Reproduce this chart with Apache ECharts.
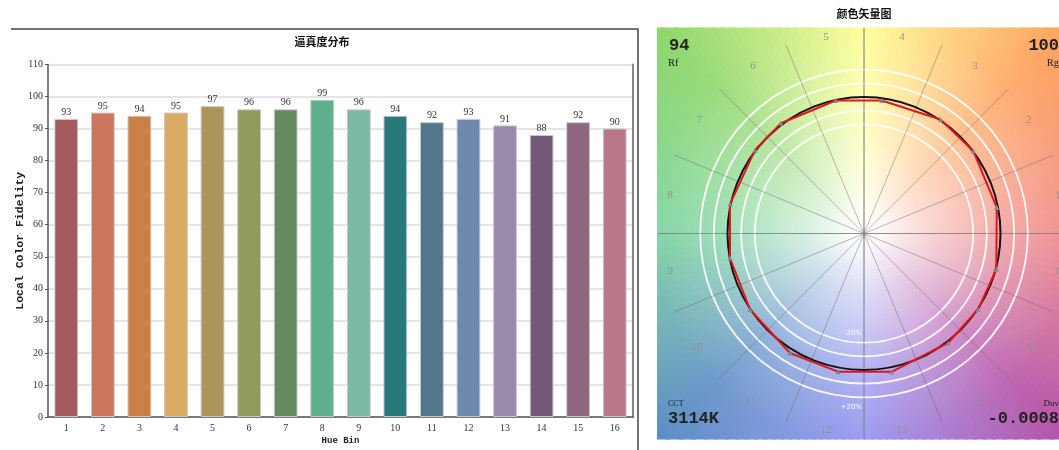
<!DOCTYPE html>
<html><head><meta charset="utf-8">
<script src="https://cdn.jsdelivr.net/npm/echarts@6/dist/echarts.min.js"></script>
<style>html,body{margin:0;padding:0;background:#fff}#c{width:1059px;height:450px}</style>
</head><body><div id="c"></div>
<script>
// ---------- data ----------
const hueBins = ['1','2','3','4','5','6','7','8','9','10','11','12','13','14','15','16'];
const fidelity = [93,95,94,95,97,96,96,99,96,94,92,93,91,88,92,90];
const binColors = ['#A35B5E','#CC765E','#CB8145','#D8AA62','#AC9559','#909C5D','#658A5E','#5EB08C',
                   '#7BB9A5','#28797A','#53778A','#6D89AF','#9A8AAB','#745A79','#8F657F','#B87889'];
const yMin = 0, yMax = 110, yStep = 10;
// colour vector graphic: test points (angle in degrees, radius relative to reference circle)
const testAngles = [11.1,37.0,56.1,82.4,102.0,127.0,142.5,167.6,190.4,213.7,238.2,259.3,281.3,307.5,326.3,344.9];
const testRadii  = [0.991,1.003,1.006,0.983,0.996,1.011,1.006,1.005,0.998,1.004,1.030,1.030,1.033,1.011,1.004,1.004];
const chromaRings = [0.8, 0.9, 1.1, 1.2];
const Rf = '94', Rg = '100', CCT = '3114K', Duv = '-0.0008';

// ---------- layout ----------
const CX = 864, CY = 233.5, R = 136.5, HW = 207, HH = 206;
const hueAnchors = [
  [0,[238,128,128]],[45,[255,160,90]],[90,[255,255,140]],[135,[140,214,104]],
  [180,[112,208,152]],[225,[90,140,196]],[270,[140,140,240]],[315,[180,80,166]],[360,[238,128,128]]
];
function hueColor(deg){
  deg = ((deg % 360) + 360) % 360;
  for (let i = 0; i < hueAnchors.length - 1; i++) {
    const [a0,c0] = hueAnchors[i], [a1,c1] = hueAnchors[i+1];
    if (deg >= a0 && deg <= a1) {
      const t = (deg - a0) / (a1 - a0);
      return 'rgb(' + c0.map((v,k)=>Math.round(v + (c1[k]-v)*t)).join(',') + ')';
    }
  }
  return 'rgb(255,255,255)';
}
function rayPoint(deg){
  const a = deg*Math.PI/180, dx = Math.cos(a), dy = -Math.sin(a);
  const tx = Math.abs(dx) > 1e-9 ? HW/Math.abs(dx) : Infinity;
  const ty = Math.abs(dy) > 1e-9 ? HH/Math.abs(dy) : Infinity;
  const t = Math.min(tx, ty);
  return [CX + t*dx, CY + t*dy];
}
const cDeg = Math.atan2(HH, HW)*180/Math.PI;
const corners = [[cDeg,[CX+HW,CY-HH]],[180-cDeg,[CX-HW,CY-HH]],[180+cDeg,[CX-HW,CY+HH]],[360-cDeg,[CX+HW,CY+HH]]];
const graphics = [];
const STEP = 2;
for (let a = 0; a < 360; a += STEP) {
  const a1 = a, a2 = a + STEP + 0.7;
  const pts = [[CX,CY], rayPoint(a1)];
  const cs = [];
  corners.forEach(([cd,p]) => {
    [cd, cd+360].forEach(v => { if (v > a1 && v < a2) cs.push([v,p]); });
  });
  cs.sort((p,q)=>p[0]-q[0]).forEach(c => pts.push(c[1]));
  pts.push(rayPoint(a2));
  graphics.push({type:'polygon', silent:true, z:-20, shape:{points:pts}, style:{fill:hueColor(a + STEP/2)}});
}
graphics.push({type:'rect', silent:true, z:-19,
  shape:{x:CX-HW, y:CY-HH, width:2*HW, height:2*HH},
  style:{fill:{type:'radial', x:0.5, y:0.5, r:300/(2*HH), colorStops:[
    {offset:0, color:'rgba(255,255,255,1)'},
    {offset:0.05, color:'rgba(255,255,255,0.95)'},
    {offset:0.2, color:'rgba(255,255,255,0.7)'},
    {offset:0.45, color:'rgba(255,255,255,0.35)'},
    {offset:0.7, color:'rgba(255,255,255,0.12)'},
    {offset:1, color:'rgba(255,255,255,0)'}]}}});
// full cross lines
graphics.push({type:'line', silent:true, z:-18, shape:{x1:CX-HW, y1:CY, x2:CX+HW, y2:CY}, style:{stroke:'rgba(150,150,150,0.75)', lineWidth:1.2}});
graphics.push({type:'line', silent:true, z:-18, shape:{x1:CX, y1:CY-HH, x2:CX, y2:CY+HH}, style:{stroke:'rgba(150,150,150,0.75)', lineWidth:1.2}});
// chroma rings
chromaRings.forEach(k => graphics.push({type:'circle', silent:true, z:-17, shape:{cx:CX, cy:CY, r:k*R},
  style:{fill:'none', stroke:'rgba(255,255,255,0.92)', lineWidth:1.8}}));
// reference circle
graphics.push({type:'circle', silent:true, z:1, shape:{cx:CX, cy:CY, r:R}, style:{fill:'none', stroke:'#111', lineWidth:2}});
// centre mark
graphics.push({type:'line', silent:true, z:1, shape:{x1:CX-5, y1:CY, x2:CX+5, y2:CY}, style:{stroke:'#888', lineWidth:1}});
graphics.push({type:'line', silent:true, z:1, shape:{x1:CX, y1:CY-5, x2:CX, y2:CY+5}, style:{stroke:'#888', lineWidth:1}});
// ring labels
graphics.push({type:'text', silent:true, z:1, x:CX-2, y:CY + chromaRings[0]*R - 10,
  style:{text:'-20%', align:'right', verticalAlign:'middle', fill:'#fff', font:'7px "DejaVu Sans"'}});
graphics.push({type:'text', silent:true, z:1, x:CX-2, y:CY + chromaRings[3]*R + 10,
  style:{text:'+20%', align:'right', verticalAlign:'middle', fill:'#fff', font:'7px "DejaVu Sans"'}});
// corner texts
const bigFont = 'bold 17px "Liberation Mono"';
graphics.push({type:'text', silent:true, z:3, x:CX-HW+12, y:46, style:{text:Rf, align:'left', verticalAlign:'middle', fill:'#222', font:bigFont}});
graphics.push({type:'text', silent:true, z:3, x:CX-HW+11, y:63, style:{text:'Rf', align:'left', verticalAlign:'middle', fill:'#222', font:'10.5px "Liberation Serif"'}});
graphics.push({type:'text', silent:true, z:3, x:CX+HW-12, y:46, style:{text:Rg, align:'right', verticalAlign:'middle', fill:'#222', font:bigFont}});
graphics.push({type:'text', silent:true, z:3, x:CX+HW-12, y:63, style:{text:'Rg', align:'right', verticalAlign:'middle', fill:'#222', font:'10.5px "Liberation Serif"'}});
graphics.push({type:'text', silent:true, z:3, x:CX-HW+11, y:404, style:{text:'CCT', align:'left', verticalAlign:'middle', fill:'#222', font:'8px "Liberation Serif"'}});
graphics.push({type:'text', silent:true, z:3, x:CX-HW+11, y:419, style:{text:CCT, align:'left', verticalAlign:'middle', fill:'#222', font:bigFont}});
graphics.push({type:'text', silent:true, z:3, x:CX+HW-12, y:404, style:{text:'Duv', align:'right', verticalAlign:'middle', fill:'#222', font:'9px "Liberation Serif"'}});
graphics.push({type:'text', silent:true, z:3, x:CX+HW-12, y:419, style:{text:Duv, align:'right', verticalAlign:'middle', fill:'#222', font:bigFont}});
// titles
graphics.push({type:'text', silent:true, x:322, y:42, style:{text:'逼真度分布', align:'center', verticalAlign:'middle', fill:'#111', font:'bold 11px "Noto Sans CJK SC"'}});
graphics.push({type:'text', silent:true, x:CX, y:14, style:{text:'颜色矢量图', align:'center', verticalAlign:'middle', fill:'#111', font:'bold 11px "Noto Sans CJK SC"'}});
// left panel frame
graphics.push({type:'polyline', silent:true, shape:{points:[[11,29],[638,29],[638,450]]}, style:{stroke:'#444', lineWidth:1.5, fill:'none'}});

const testData = testAngles.map((a,i)=>[testRadii[i], a]);
testData.push(testData[0]);

const chart = echarts.init(document.getElementById('c'));
chart.setOption({
  animation:false,
  backgroundColor:'#fff',
  graphic: graphics,
  grid:{left:48, top:64.5, width:585, height:353.5},
  xAxis:{type:'category', data:hueBins,
    axisLine:{lineStyle:{color:'#555', width:1.5}},
    axisTick:{length:3, lineStyle:{color:'#555'}},
    axisLabel:{color:'#333', fontSize:10, fontFamily:'Liberation Serif', margin:6},
    name:'Hue Bin', nameLocation:'middle', nameGap:19, nameMoveOverlap:false,
    nameTextStyle:{color:'#222', fontSize:9, fontWeight:'bold', fontFamily:'Liberation Mono'}},
  yAxis:[{type:'value', min:yMin, max:yMax, interval:yStep,
    axisLine:{show:true, lineStyle:{color:'#555', width:1.5}},
    axisTick:{show:true, length:3, lineStyle:{color:'#555'}},
    axisLabel:{color:'#333', fontSize:10, fontFamily:'Liberation Serif', margin:5},
    splitLine:{lineStyle:{color:'#dcdcdc', width:1.5}},
    name:'Local Color Fidelity', nameLocation:'middle', nameGap:22, nameMoveOverlap:false,
    nameTextStyle:{color:'#222', fontSize:11.5, fontWeight:'bold', fontFamily:'Liberation Mono'}},
   {type:'value', min:yMin, max:yMax, interval:yStep, position:'right',
    axisLine:{show:true, lineStyle:{color:'#888', width:2}}, axisTick:{show:false}, axisLabel:{show:false}, splitLine:{show:false}}],
  polar:[{center:[CX,CY], radius:1.5*R},{center:[CX,CY], radius:1.5*R}],
  radiusAxis:[{polarIndex:0, min:0, max:1.5, show:false},{polarIndex:1, min:0, max:1.5, show:false}],
  angleAxis:[
    {polarIndex:0, type:'value', min:0, max:360, startAngle:0, clockwise:false, show:false},
    {polarIndex:1, type:'category', data:hueBins, startAngle:0, clockwise:false, z:-1,
     axisLine:{show:false}, axisTick:{show:false},
     splitLine:{show:true, lineStyle:{color:'rgba(110,110,110,0.6)', width:0.8}},
     axisLabel:{color:'#939393', fontSize:11, fontFamily:'Liberation Serif', margin:-10}}
  ],
  series:[
    {type:'bar', data:fidelity, barWidth:'65%', xAxisIndex:0, yAxisIndex:0,
     itemStyle:{color:p=>binColors[p.dataIndex], borderColor:'#c8c8c8', borderWidth:1},
     label:{show:true, position:'top', distance:1.5, color:'#333', fontSize:10, fontFamily:'Liberation Serif'}},
    {type:'line', coordinateSystem:'polar', polarIndex:0, data:testData, z:5,
     symbol:'triangle', symbolSize:5, itemStyle:{color:'#7d8c92'},
     lineStyle:{color:'#e4141b', width:2}}
  ]
});
</script></body></html>
